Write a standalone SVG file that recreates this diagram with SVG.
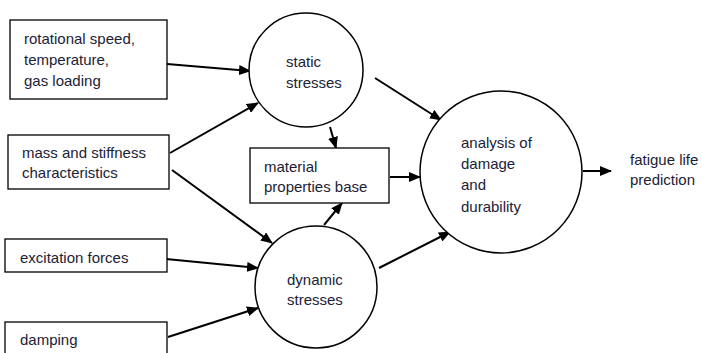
<svg xmlns="http://www.w3.org/2000/svg" width="705" height="353" viewBox="0 0 705 353">
<style>
.box{fill:#fff;stroke:#000;stroke-width:1.3}
.c{fill:#fff;stroke:#000;stroke-width:1.5}
.t{font-family:"Liberation Sans",Arial,sans-serif;font-size:15px;fill:#1c2236}
.e{stroke:#000;stroke-width:2;fill:none;marker-end:url(#ah)}
</style>
<defs>
<marker id="ah" viewBox="0 0 12 10" refX="11" refY="5" markerWidth="12" markerHeight="10" markerUnits="userSpaceOnUse" orient="auto">
<path d="M0,0 L12,5 L0,10 Z" fill="#000"/>
</marker>
</defs>
<rect width="705" height="353" fill="#fff"/>
<g id="connectors">
<line class="e" x1="167" y1="64" x2="250" y2="71"/>
<line class="e" x1="170" y1="153" x2="258" y2="103"/>
<line class="e" x1="172" y1="170" x2="272" y2="243"/>
<line class="e" x1="166" y1="259" x2="258" y2="268"/>
<line class="e" x1="168" y1="337" x2="258" y2="308"/>
<line class="e" x1="330" y1="127" x2="336" y2="148"/>
<line class="e" x1="324" y1="225" x2="342" y2="203"/>
<line class="e" x1="375" y1="78" x2="441" y2="120"/>
<line class="e" x1="390" y1="177" x2="420" y2="177"/>
<line class="e" x1="379" y1="268" x2="450" y2="232"/>
<line class="e" x1="583" y1="171" x2="611" y2="171"/>
</g>
<g id="n_rot">
<rect class="box" x="10" y="20" width="157" height="79"/>
<text class="t" x="24" y="44">rotational speed,</text>
<text class="t" x="24" y="65">temperature,</text>
<text class="t" x="24" y="86">gas loading</text>
</g>
<g id="n_mass">
<rect class="box" x="8" y="135" width="161" height="54"/>
<text class="t" x="22" y="158">mass and stiffness</text>
<text class="t" x="22" y="178">characteristics</text>
</g>
<g id="n_exc">
<rect class="box" x="5" y="239" width="162" height="33"/>
<text class="t" x="20" y="263">excitation forces</text>
</g>
<g id="n_damp">
<rect class="box" x="5" y="322" width="162" height="40"/>
<text class="t" x="20" y="345">damping</text>
</g>
<g id="n_static">
<circle class="c" cx="306" cy="70" r="57"/>
<text class="t" x="286" y="67">static</text>
<text class="t" x="286" y="88">stresses</text>
</g>
<g id="n_mat">
<rect class="box" x="250" y="148" width="139" height="55"/>
<text class="t" x="264" y="172">material</text>
<text class="t" x="264" y="192">properties base</text>
</g>
<g id="n_dyn">
<circle class="c" cx="316" cy="287" r="61"/>
<text class="t" x="287" y="285">dynamic</text>
<text class="t" x="287" y="305">stresses</text>
</g>
<g id="n_anal">
<circle class="c" cx="501" cy="172" r="81"/>
<text class="t" x="461" y="148">analysis of</text>
<text class="t" x="461" y="169">damage</text>
<text class="t" x="461" y="190">and</text>
<text class="t" x="461" y="212">durability</text>
</g>
<g id="n_fat">
<text class="t" x="630" y="165">fatigue life</text>
<text class="t" x="630" y="185">prediction</text>
</g>
</svg>
